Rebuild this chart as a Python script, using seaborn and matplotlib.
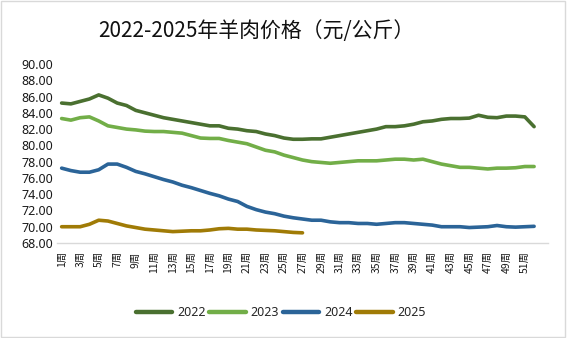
import matplotlib
matplotlib.use("Agg")
import matplotlib.pyplot as plt
from matplotlib.patches import Rectangle
import pandas as pd
import seaborn as sns

# Weekly mutton prices (yuan/kg)
weeks = list(range(1, 53))
p2022 = [85.2, 85.1, 85.4, 85.7, 86.2, 85.8, 85.2, 84.9, 84.3, 84.0,
         83.7, 83.4, 83.2, 83.0, 82.8, 82.6, 82.4, 82.4, 82.1, 82.0,
         81.8, 81.7, 81.4, 81.2, 80.9, 80.75, 80.75, 80.8, 80.8, 81.0,
         81.2, 81.4, 81.6, 81.8, 82.0, 82.3, 82.3, 82.4, 82.6, 82.9,
         83.0, 83.2, 83.3, 83.3, 83.35, 83.7, 83.45, 83.4, 83.6, 83.6,
         83.5, 82.3]
p2023 = [83.3, 83.1, 83.4, 83.5, 83.0, 82.4, 82.2, 82.0, 81.9, 81.75,
         81.7, 81.7, 81.6, 81.5, 81.2, 80.9, 80.85, 80.85, 80.6, 80.4,
         80.2, 79.8, 79.4, 79.2, 78.8, 78.5, 78.2, 78.0, 77.9, 77.8,
         77.9, 78.0, 78.1, 78.1, 78.1, 78.2, 78.3, 78.3, 78.2, 78.3,
         78.0, 77.7, 77.5, 77.3, 77.3, 77.2, 77.1, 77.2, 77.2, 77.25,
         77.4, 77.4]
p2024 = [77.2, 76.9, 76.7, 76.7, 77.0, 77.7, 77.7, 77.3, 76.8, 76.5,
         76.15, 75.8, 75.5, 75.1, 74.8, 74.45, 74.1, 73.8, 73.4, 73.1,
         72.5, 72.1, 71.8, 71.6, 71.3, 71.1, 70.95, 70.8, 70.8, 70.6,
         70.5, 70.5, 70.4, 70.4, 70.3, 70.4, 70.5, 70.5, 70.4, 70.3,
         70.2, 70.0, 70.0, 70.0, 69.9, 69.95, 70.0, 70.15, 70.0, 69.95,
         70.0, 70.05]
p2025 = [70.0, 70.0, 70.0, 70.3, 70.8, 70.7, 70.4, 70.1, 69.9, 69.7,
         69.6, 69.5, 69.4, 69.45, 69.5, 69.5, 69.6, 69.75, 69.8, 69.7,
         69.7, 69.6, 69.55, 69.5, 69.4, 69.3, 69.25]

years = ["2022", "2023", "2024", "2025"]
series = [p2022, p2023, p2024, p2025]
colors = ["#4a7030", "#72ae48", "#2b6498", "#a07b06"]
tick_weeks = list(range(1, 52, 2))
tick_labels = [f"{w}周" for w in tick_weeks]
y_ticks = [68 + 2 * i for i in range(12)]

rows = []
for yr, vals in zip(years, series):
    for w, v in zip(weeks, vals):
        rows.append({"week": w, "price": v, "year": yr})
df = pd.DataFrame(rows)

sns.set_theme(style="white")
plt.rcParams["font.family"] = ["Noto Sans", "Noto Sans CJK SC", "DejaVu Sans"]

fig = plt.figure(figsize=(5.67, 3.38), dpi=100)
ax = fig.add_axes([57 / 567, 95 / 338, 491 / 567, 179 / 338])

sns.lineplot(data=df, x="week", y="price", hue="year", hue_order=years,
             palette=colors, linewidth=2.6, ax=ax, legend=False,
             solid_capstyle="round")

ax.set_xlim(0.5, 53.5)
ax.set_ylim(68, 90)
ax.set_yticks(y_ticks)
ax.set_yticklabels([f"{v:.2f}" for v in y_ticks], fontsize=9, color="#1a1a1a")
ax.set_xticks(tick_weeks)
ax.set_xticklabels(tick_labels, rotation=90, fontsize=7.5, color="#1a1a1a",
                   family=["Noto Sans CJK SC", "DejaVu Sans"])
ax.tick_params(axis="both", length=0, pad=3)
ax.tick_params(axis="x", pad=6)
ax.set_xlabel("")
ax.set_ylabel("")
for side in ["top", "right", "left"]:
    ax.spines[side].set_visible(False)
ax.spines["bottom"].set_color("#d9d9d9")
ax.spines["bottom"].set_linewidth(1.0)

fig.text(256 / 567, 1 - 31 / 338, "2022-2025年羊肉价格（元/公斤）",
         ha="center", va="center", fontsize=15, color="#111111",
         family=["Noto Sans CJK SC", "DejaVu Sans"])

handles = [plt.Line2D([], [], color=c, lw=3.2, solid_capstyle="round") for c in colors]
fig.legend(handles, years, loc="center", bbox_to_anchor=(281 / 567, 1 - 313 / 338),
           ncol=4, frameon=False, fontsize=9, handlelength=2.9,
           handletextpad=0.4, columnspacing=0.3, borderaxespad=0)

fig.patches.append(Rectangle((0.002, 0.003), 0.995, 0.994, transform=fig.transFigure,
                             fill=False, edgecolor="#d9d9d9", linewidth=1.0))

fig.savefig("out.png", dpi=100)
